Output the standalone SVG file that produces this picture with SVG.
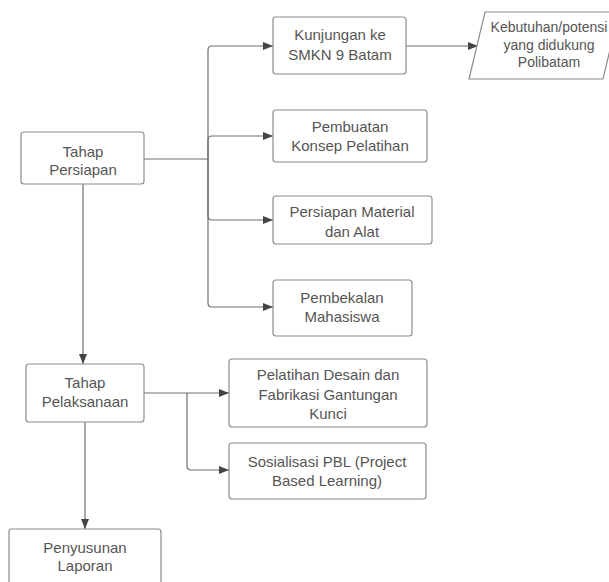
<svg xmlns="http://www.w3.org/2000/svg" width="609" height="582" viewBox="0 0 609 582">
<style>
.box{fill:#fff;stroke:#8c8c8c;stroke-width:1.2}
.t{font-family:"Liberation Sans",Arial,sans-serif;font-size:15px;fill:#555;text-anchor:middle}
.ts{font-family:"Liberation Sans",Arial,sans-serif;font-size:14px;fill:#555;text-anchor:middle}
.c{fill:none;stroke:#6e6e6e;stroke-width:1.2}
</style>
<defs>
<marker id="a" viewBox="0 0 10 8" refX="10" refY="4" markerWidth="10" markerHeight="8" markerUnits="userSpaceOnUse" orient="auto">
<path d="M0,0 L10,4 L0,8 z" fill="#444"/>
</marker>
</defs>
<rect width="609" height="582" fill="#fff"/>
<g id="connectors">
<path class="c" d="M144,159 H208"/>
<path class="c" d="M208,159 V50 Q208,46 212,46 H273" marker-end="url(#a)"/>
<path class="c" d="M208,159 V140 Q208,136 212,136 H273" marker-end="url(#a)"/>
<path class="c" d="M208,159 V216 Q208,220 212,220 H273" marker-end="url(#a)"/>
<path class="c" d="M208,159 V303 Q208,307 212,307 H273" marker-end="url(#a)"/>
<path class="c" d="M406,46 H478" marker-end="url(#a)"/>
<path class="c" d="M83,184 V364" marker-end="url(#a)"/>
<path class="c" d="M144,393 H229" marker-end="url(#a)"/>
<path class="c" d="M187,393 V466 Q187,470 191,470 H229" marker-end="url(#a)"/>
<path class="c" d="M85,422 V529" marker-end="url(#a)"/>
</g>
<g id="tahap-persiapan">
<rect class="box" x="21" y="132" width="123" height="52" rx="3"/>
<text class="t" x="83" y="157">Tahap</text>
<text class="t" x="83" y="175">Persiapan</text>
</g>
<g id="kunjungan">
<rect class="box" x="273" y="17" width="133" height="57" rx="3"/>
<text class="t" x="340" y="40">Kunjungan ke</text>
<text class="t" x="340" y="60">SMKN 9 Batam</text>
</g>
<g id="kebutuhan">
<path class="box" d="M485,12 L619,12 L603,79 L469,79 Z"/>
<text class="ts" x="549" y="32">Kebutuhan/potensi</text>
<text class="ts" x="549" y="50">yang didukung</text>
<text class="ts" x="549" y="67">Polibatam</text>
</g>
<g id="pembuatan">
<rect class="box" x="273" y="110" width="154" height="52" rx="3"/>
<text class="t" x="350" y="132">Pembuatan</text>
<text class="t" x="350" y="151">Konsep Pelatihan</text>
</g>
<g id="persiapan-material">
<rect class="box" x="273" y="196" width="159" height="48" rx="3"/>
<text class="t" x="352" y="217">Persiapan Material</text>
<text class="t" x="352" y="237">dan Alat</text>
</g>
<g id="pembekalan">
<rect class="box" x="273" y="280" width="139" height="56" rx="3"/>
<text class="t" x="342" y="303">Pembekalan</text>
<text class="t" x="342" y="322">Mahasiswa</text>
</g>
<g id="tahap-pelaksanaan">
<rect class="box" x="26" y="364" width="118" height="58" rx="3"/>
<text class="t" x="85" y="388">Tahap</text>
<text class="t" x="85" y="407">Pelaksanaan</text>
</g>
<g id="pelatihan">
<rect class="box" x="229" y="359" width="198" height="68" rx="3"/>
<text class="t" x="328" y="380">Pelatihan Desain dan</text>
<text class="t" x="328" y="400">Fabrikasi Gantungan</text>
<text class="t" x="328" y="419">Kunci</text>
</g>
<g id="sosialisasi">
<rect class="box" x="229" y="443" width="197" height="56" rx="3"/>
<text class="t" x="327" y="467">Sosialisasi PBL (Project</text>
<text class="t" x="327" y="486">Based Learning)</text>
</g>
<g id="penyusunan">
<rect class="box" x="9" y="529" width="152" height="62" rx="3"/>
<text class="t" x="85" y="553">Penyusunan</text>
<text class="t" x="85" y="571">Laporan</text>
</g>
</svg>
